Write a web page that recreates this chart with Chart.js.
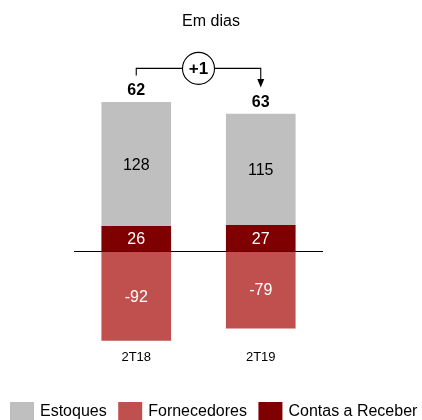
<!DOCTYPE html>
<html>
<head>
<meta charset="utf-8">
<script src="https://cdn.jsdelivr.net/npm/chart.js@4"></script>
<style>
  html, body { margin: 0; padding: 0; background: #fff; overflow: hidden; }
  canvas { display: block; }
</style>
</head>
<body>
<canvas id="grafico" width="422" height="420"></canvas>
<script>
// Dados (em dias)
const periodos = ['2T18', '2T19'];
const contasReceber = [26, 27];
const estoques = [128, 115];
const fornecedores = [-92, -79];
const ordemLegenda = ['Estoques', 'Fornecedores', 'Contas a Receber'];

const fonte = "'Liberation Sans', Arial, sans-serif";

// Rótulos dentro das barras
const rotulosBarras = {
  id: 'rotulosBarras',
  afterDatasetsDraw(chart) {
    const ctx = chart.ctx;
    ctx.save();
    ctx.font = '16px ' + fonte;
    ctx.textAlign = 'center';
    ctx.textBaseline = 'middle';
    chart.data.datasets.forEach((ds, i) => {
      const meta = chart.getDatasetMeta(i);
      meta.data.forEach((bar, j) => {
        const p = bar.getProps(['x', 'y', 'base'], true);
        ctx.fillStyle = ds.corTexto;
        ctx.fillText(String(ds.data[j]), p.x, (p.y + p.base) / 2 + 1);
      });
    });
    ctx.restore();
  }
};

// Totais e seta de variação
const totais = {
  id: 'totais',
  afterDatasetsDraw(chart) {
    const ctx = chart.ctx;
    const topo = chart.getDatasetMeta(1).data; // Estoques fica no topo
    const soma = periodos.map((_, j) => estoques[j] + contasReceber[j] + fornecedores[j]);
    const pts = topo.map(b => b.getProps(['x', 'y'], true));

    ctx.save();
    ctx.fillStyle = '#000';
    ctx.font = 'bold 16px ' + fonte;
    ctx.textAlign = 'center';
    ctx.textBaseline = 'alphabetic';
    pts.forEach((p, j) => ctx.fillText(String(soma[j]), p.x, p.y - 7));

    // colchete
    const yLinha = Math.min(pts[0].y, pts[1].y) - 34;
    const cx = (pts[0].x + pts[1].x) / 2;
    const r = 16;
    ctx.strokeStyle = '#000';
    ctx.lineWidth = 1.1;
    ctx.beginPath();
    ctx.moveTo(pts[0].x, pts[0].y - 27);
    ctx.lineTo(pts[0].x, yLinha);
    ctx.lineTo(cx - r, yLinha);
    ctx.moveTo(cx + r, yLinha);
    ctx.lineTo(pts[1].x, yLinha);
    ctx.lineTo(pts[1].x, pts[1].y - 34);
    ctx.stroke();
    // ponta da seta
    ctx.beginPath();
    ctx.moveTo(pts[1].x - 3.5, pts[1].y - 35);
    ctx.lineTo(pts[1].x + 3.5, pts[1].y - 35);
    ctx.lineTo(pts[1].x, pts[1].y - 26.5);
    ctx.closePath();
    ctx.fill();
    // círculo com a variação
    ctx.beginPath();
    ctx.arc(cx, yLinha, r, 0, Math.PI * 2);
    ctx.fillStyle = '#fff';
    ctx.fill();
    ctx.stroke();
    const delta = soma[1] - soma[0];
    ctx.fillStyle = '#000';
    ctx.font = 'bold 17px ' + fonte;
    ctx.textBaseline = 'middle';
    ctx.fillText((delta > 0 ? '+' : '') + delta, cx, yLinha + 1);
    ctx.restore();
  }
};

// Legenda desenhada à mão (a do Chart.js quebra em duas linhas nesta largura)
const legenda = {
  id: 'legenda',
  afterDraw(chart) {
    const ctx = chart.ctx;
    const itens = ordemLegenda.map(nome => chart.data.datasets.find(d => d.label === nome));
    ctx.save();
    ctx.font = '16px ' + fonte;
    ctx.textBaseline = 'middle';
    ctx.textAlign = 'left';
    let x = 10;
    const yCaixa = 402, yTexto = 412;
    itens.forEach(ds => {
      ctx.fillStyle = ds.backgroundColor;
      ctx.fillRect(x, yCaixa, 24, 20);
      x += 24 + 6;
      ctx.fillStyle = '#000';
      ctx.fillText(ds.label, x, yTexto);
      x += ctx.measureText(ds.label).width + 11.5;
    });
    ctx.restore();
  }
};

new Chart(document.getElementById('grafico'), {
  type: 'bar',
  data: {
    labels: periodos,
    datasets: [
      { label: 'Contas a Receber', data: contasReceber, backgroundColor: '#7f0000', corTexto: '#fff' },
      { label: 'Estoques', data: estoques, backgroundColor: '#bfbfbf', corTexto: '#000' },
      { label: 'Fornecedores', data: fornecedores, backgroundColor: '#c0504d', corTexto: '#fff' }
    ]
  },
  options: {
    responsive: false,
    animation: false,
    devicePixelRatio: 1,
    barThickness: 69,
    plugins: {
      title: {
        display: true,
        text: 'Em dias',
        color: '#000',
        font: { family: fonte, size: 16, weight: 'normal' },
        padding: { top: 12, bottom: 46 }
      },
      legend: { display: false },
      tooltip: { enabled: false }
    },
    scales: {
      x: {
        stacked: true,
        grid: { display: false, drawTicks: false },
        border: { display: false },
        ticks: { color: '#000', font: { family: fonte, size: 13 }, padding: 9 },
        afterFit: s => { s.height = 79.3; }
      },
      y: {
        stacked: true,
        min: -92,
        max: 180,
        afterBuildTicks: s => { s.ticks = [{ value: 0 }]; },
        grid: { color: '#000', lineWidth: 1, drawTicks: false },
        border: { display: false },
        ticks: { display: false },
        afterFit: s => { s.width = 74; }
      },
      y2: {
        position: 'right',
        display: true,
        grid: { display: false, drawTicks: false },
        border: { display: false },
        ticks: { display: false },
        afterFit: s => { s.width = 99; }
      }
    }
  },
  plugins: [rotulosBarras, totais, legenda]
});
</script>
</body>
</html>
